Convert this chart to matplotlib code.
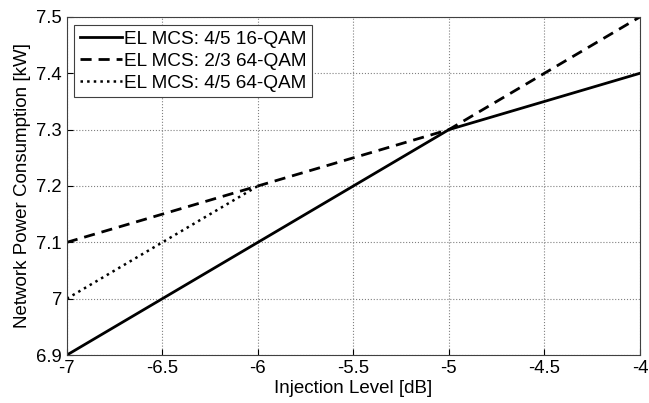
import matplotlib
matplotlib.use("Agg")
import matplotlib.pyplot as plt

plt.rcParams['font.family'] = ['Liberation Sans', 'DejaVu Sans']

x = [-7, -6, -5, -4]
y_16qam_45 = [6.9, 7.1, 7.3, 7.4]
y_64qam_23 = [7.1, 7.2, 7.3, 7.5]
# dotted curve joins the dashed one from -6 on, only its own part is drawn
x_64qam_45 = [-7, -6]
y_64qam_45 = [7.0, 7.2]

labels = ['EL MCS: 4/5 16-QAM', 'EL MCS: 2/3 64-QAM', 'EL MCS: 4/5 64-QAM']

fig = plt.figure(figsize=(6.49, 4.03), dpi=100)
ax = fig.add_axes([0.103, 0.119, 0.883, 0.839])

ax.plot(x, y_16qam_45, 'k-', lw=2, label=labels[0])
ax.plot(x, y_64qam_23, 'k--', lw=2, dashes=(4, 2.5), label=labels[1])
ax.plot(x_64qam_45, y_64qam_45, 'k:', lw=1.8, label=labels[2])

ax.set_xlim(-7, -4)
ax.set_ylim(6.9, 7.5)
ax.set_xticks([-7, -6.5, -6, -5.5, -5, -4.5, -4])
ax.set_xticklabels(['-7', '-6.5', '-6', '-5.5', '-5', '-4.5', '-4'])
ax.set_yticks([6.9, 7.0, 7.1, 7.2, 7.3, 7.4, 7.5])
ax.set_yticklabels(['6.9', '7', '7.1', '7.2', '7.3', '7.4', '7.5'])
ax.tick_params(labelsize=13.3, direction='in', length=4, width=0.8)
ax.grid(True, linestyle=':', color='#808080', lw=0.8)
for s in ax.spines.values():
    s.set_color('#404040')
    s.set_linewidth(0.8)

ax.set_xlabel('Injection Level [dB]', fontsize=13.5, labelpad=2)
ax.set_ylabel('Network Power Consumption [kW]', fontsize=13.5, labelpad=4)

leg = ax.legend(loc='upper left', fontsize=13.7, fancybox=False, framealpha=1,
                edgecolor='#404040', handlelength=2.2, handletextpad=0.1,
                borderaxespad=0.4, labelspacing=0.25, borderpad=0.3)
leg.get_frame().set_linewidth(0.8)

fig.savefig('out.png', dpi=100)
